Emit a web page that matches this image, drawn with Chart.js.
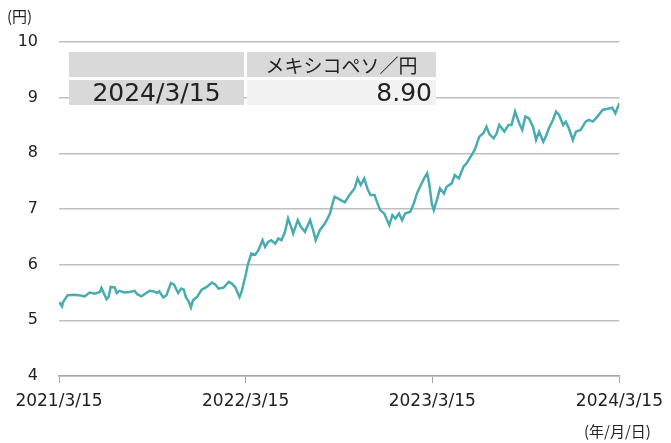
<!DOCTYPE html>
<html>
<head>
<meta charset="utf-8">
<script src="https://cdn.jsdelivr.net/npm/chart.js@4.4.1/dist/chart.umd.min.js"></script>
<style>
  html, body { margin: 0; padding: 0; background: #fff; }
  #wrap { position: relative; width: 671px; height: 443px; font-family: "DejaVu Sans", "Noto Sans CJK JP", sans-serif; color: #222; }
  #wrap canvas { position: absolute; left: 0; top: 0; }
  .unit { position: absolute; font-size: 15px; font-family: "Noto Sans CJK JP", sans-serif; }
  .cell { position: absolute; box-sizing: border-box; height: 25px; line-height: 25px; white-space: nowrap; }
</style>
</head>
<body>
<div id="wrap">
  <canvas id="chart" width="671" height="443"></canvas>
  <div class="unit" style="left:7px; top:5px;">(円)</div>
  <div class="unit" style="left:584px; top:420px;">(年/月/日)</div>
  <div class="cell" style="left:69px; top:52px; width:175px; background:#d9d9d9;"></div>
  <div class="cell" style="left:247px; top:52px; width:189px; background:#d9d9d9; text-align:center; font-family:'Noto Sans CJK JP', sans-serif; font-size:19px;">メキシコペソ／円</div>
  <div class="cell" style="left:69px; top:80px; width:175px; background:#d9d9d9; text-align:center; font-size:25px;">2024/3/15</div>
  <div class="cell" style="left:247px; top:80px; width:189px; background:#f2f2f2; text-align:right; padding-right:4px; font-size:25px;">8.90</div>
</div>
<script>
// days since 2021/3/15
const dayOffsets = [0, 6, 8, 17, 31, 45, 50, 60, 70, 80, 83, 93, 97, 101, 109, 113, 118, 128, 138, 148,
  153, 161, 167, 177, 186, 192, 196, 204, 210, 219, 225, 233, 239, 244, 248, 254, 258, 262, 270, 279,
  289, 299, 306, 312, 322, 332, 338, 345, 353, 357, 365, 369, 376, 384, 390, 398, 403, 409, 415, 423,
  429, 435, 442, 448, 454, 458, 467, 473, 481, 491, 497, 502, 510, 520, 530, 535, 539, 545, 551, 559,
  568, 578, 584, 590, 597, 603, 609, 617, 623, 628, 636, 646, 652, 658, 665, 671, 677, 687, 694, 700,
  706, 714, 720, 724, 729, 733, 739, 745, 753, 758, 768, 774, 782, 791, 797, 803, 813, 822, 830, 836,
  842, 850, 856, 861, 871, 879, 885, 892, 900, 906, 912, 919, 927, 933, 939, 947, 952, 958, 966, 972,
  978, 986, 991, 997, 1005, 1011, 1020, 1030, 1036, 1044, 1053, 1063, 1073, 1082, 1088, 1096];

// MXN/JPY
const rates = [5.33, 5.25, 5.33, 5.45, 5.46, 5.44, 5.43, 5.50, 5.48, 5.51, 5.58, 5.38, 5.42, 5.60, 5.59, 5.49, 5.53, 5.50, 5.51, 5.53,
  5.47, 5.43, 5.47, 5.53, 5.52, 5.49, 5.52, 5.41, 5.45, 5.67, 5.64, 5.49, 5.57, 5.55, 5.42, 5.33, 5.23, 5.36, 5.42, 5.55,
  5.60, 5.68, 5.64, 5.57, 5.59, 5.69, 5.66, 5.59, 5.42, 5.51, 5.81, 5.99, 6.20, 6.18, 6.26, 6.44, 6.32, 6.41, 6.44, 6.38,
  6.47, 6.44, 6.59, 6.83, 6.68, 6.56, 6.80, 6.68, 6.59, 6.80, 6.62, 6.44, 6.62, 6.74, 6.92, 7.10, 7.22, 7.19, 7.16, 7.12,
  7.25, 7.37, 7.55, 7.43, 7.55, 7.37, 7.25, 7.25, 7.10, 6.98, 6.92, 6.71, 6.89, 6.83, 6.92, 6.80, 6.92, 6.95, 7.10, 7.28,
  7.40, 7.55, 7.64, 7.46, 7.10, 6.98, 7.16, 7.37, 7.28, 7.40, 7.46, 7.61, 7.55, 7.76, 7.82, 7.91, 8.06, 8.30, 8.36, 8.48,
  8.34, 8.27, 8.36, 8.51, 8.39, 8.51, 8.51, 8.75, 8.54, 8.42, 8.66, 8.63, 8.48, 8.24, 8.39, 8.21, 8.30, 8.45, 8.60, 8.75,
  8.69, 8.51, 8.57, 8.45, 8.24, 8.39, 8.42, 8.57, 8.60, 8.57, 8.66, 8.78, 8.80, 8.82, 8.72, 8.90];

const tickDays = [0, 365, 730, 1096];
const tickLabels = ['2021/3/15', '2022/3/15', '2023/3/15', '2024/3/15'];

const points = dayOffsets.map((d, i) => ({ x: d, y: rates[i] }));

new Chart(document.getElementById('chart'), {
  type: 'line',
  data: {
    datasets: [{
      data: points,
      borderColor: '#4aacb0',
      borderWidth: 2.5,
      pointRadius: 0,
      tension: 0
    }]
  },
  options: {
    responsive: false,
    animation: false,
    layout: { padding: { top: 42, right: 47, left: 0, bottom: 0 } },
    plugins: { legend: { display: false }, tooltip: { enabled: false } },
    scales: {
      x: {
        type: 'linear',
        min: 0,
        max: 1096,
        afterBuildTicks: (axis) => { axis.ticks = tickDays.map(v => ({ value: v })); },
        afterFit: (axis) => { axis.height = 67; },
        ticks: {
          autoSkip: false,
          maxRotation: 0,
          padding: 8,
          color: '#222',
          font: { family: 'DejaVu Sans', size: 17 },
          callback: (v) => tickLabels[tickDays.indexOf(v)]
        },
        grid: { drawOnChartArea: false, drawTicks: true, tickLength: 7, color: '#a6a6a6' },
        border: { display: true, color: '#a6a6a6', width: 1.5 }
      },
      y: {
        min: 4,
        max: 10,
        afterFit: (axis) => { axis.width = 59; },
        ticks: {
          stepSize: 1,
          padding: 21,
          color: '#222',
          font: { family: 'DejaVu Sans', size: 16 }
        },
        grid: { drawTicks: false, color: '#bfbfbf', lineWidth: 1.5 },
        border: { display: false }
      }
    }
  }
});
</script>
</body>
</html>
